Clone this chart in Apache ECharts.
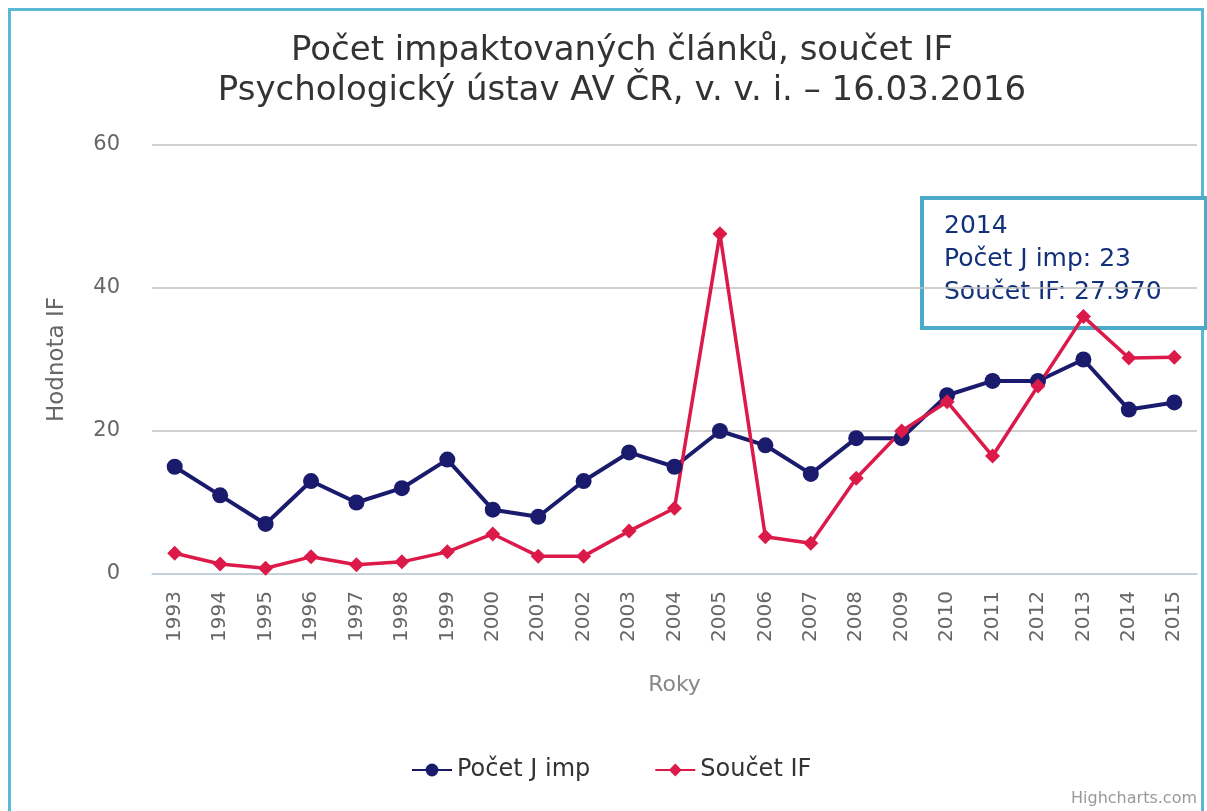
<!DOCTYPE html>
<html>
<head>
<meta charset="utf-8">
<script src="https://cdn.jsdelivr.net/npm/echarts@6/dist/echarts.min.js"></script>
<style>
  html, body { margin: 0; padding: 0; background: #fff; }
  #frame { position: absolute; left: 8px; top: 8px; width: 1190px; height: 900px;
           border: 3px solid #5bb8d4; border-bottom: none; }
  #chart { position: absolute; left: 0; top: 0; width: 1207px; height: 811px; }
</style>
</head>
<body>
<div id="frame"></div>
<div id="chart"></div>
<script>
// --- Data ---
const years = ['1993','1994','1995','1996','1997','1998','1999','2000','2001','2002','2003',
               '2004','2005','2006','2007','2008','2009','2010','2011','2012','2013','2014','2015'];
const pocetJimp = [15, 11, 7, 13, 10, 12, 16, 9, 8, 13, 17, 15, 20, 18, 14, 19, 19, 25, 27, 27, 30, 23, 24];
const soucetIF  = [2.9, 1.4, 0.8, 2.4, 1.3, 1.7, 3.1, 5.6, 2.5, 2.5, 6.0, 9.2, 47.6, 5.2, 4.3, 13.4,
                   20.0, 24.1, 16.5, 26.3, 36.0, 30.2, 30.3];
const yTicks = { min: 0, max: 60, interval: 20 };
const tooltipLines = ['2014', 'Počet J imp: 23', 'Součet IF: 27.970'];

const BLUE = '#1b1b6d';
const RED = '#dc1a4a';
const FONT = '"DejaVu Sans", sans-serif';

const chart = echarts.init(document.getElementById('chart'), null, { renderer: 'canvas' });

chart.setOption({
    animation: false,
    title: {
        text: 'Počet impaktovaných článků, součet IF\nPsychologický ústav AV ČR, v. v. i. – 16.03.2016',
        left: 617, textAlign: 'center', top: 26,
        textStyle: { fontFamily: FONT, fontSize: 34, fontWeight: 'normal', color: '#333', lineHeight: 40 }
    },
    grid: { left: 152, right: 10, top: 145, bottom: 237 },
    xAxis: {
        type: 'category',
        data: years,
        boundaryGap: true,
        name: 'Roky',
        nameLocation: 'middle',
        nameGap: 100,
        nameTextStyle: { fontFamily: FONT, fontSize: 22, color: '#888' },
        axisLine: { lineStyle: { color: '#c0d0e0', width: 1.5 } },
        axisTick: { length: 11, lineStyle: { color: '#c0d0e0', width: 1.5 } },
        axisLabel: { rotate: 90, margin: 17, fontFamily: FONT, fontSize: 20, color: '#666' }
    },
    yAxis: {
        type: 'value',
        min: yTicks.min, max: yTicks.max, interval: yTicks.interval,
        name: 'Hodnota IF',
        nameLocation: 'middle',
        nameGap: 83,
        nameTextStyle: { fontFamily: FONT, fontSize: 23, color: '#666' },
        axisLine: { show: false },
        axisTick: { show: false },
        axisLabel: { margin: 32, fontFamily: FONT, fontSize: 21, color: '#666' },
        splitLine: { lineStyle: { color: '#c0c0c0', width: 1.5 } }
    },
    legend: {
        bottom: 24,
        left: 406,
        itemGap: 64,
        itemWidth: 40,
        itemHeight: 16,
        textStyle: { fontFamily: FONT, fontSize: 24, color: '#333' },
        data: ['Počet J imp', 'Součet IF']
    },
    series: [
        {
            name: 'Počet J imp', type: 'line', data: pocetJimp,
            symbol: 'circle', symbolSize: 16,
            itemStyle: { color: BLUE }, lineStyle: { color: BLUE, width: 4 }
        },
        {
            name: 'Součet IF', type: 'line', data: soucetIF,
            symbol: 'diamond', symbolSize: 15,
            itemStyle: { color: RED }, lineStyle: { color: RED, width: 3.5 }
        }
    ],
    graphic: [
        {
            type: 'text', right: 10, bottom: 4,
            style: { text: 'Highcharts.com', fontFamily: FONT, fontSize: 16, fill: '#999' }
        },
        {
            type: 'group', left: 920, top: 196, z: 100,
            children: [
                { type: 'rect', shape: { x: 0, y: 0, width: 284, height: 130 },
                  style: { fill: '#fff', stroke: '#4aaac8', lineWidth: 4 } },
                { type: 'text', left: 22, top: 12,
                  style: { text: tooltipLines.join('\n'), fontFamily: FONT,
                           fontSize: 25, lineHeight: 33, fill: '#13317a' } }
            ]
        }
    ]
});
</script>
</body>
</html>
